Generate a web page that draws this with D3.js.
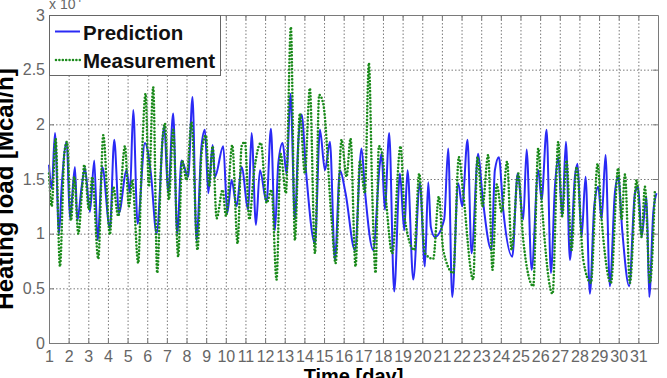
<!DOCTYPE html>
<html>
<head>
<meta charset="utf-8">
<script src="https://cdn.jsdelivr.net/npm/d3@7"></script>
<style>
    body { margin: 0; background: #fff; }
    svg { display: block; font-family: "Liberation Sans", Arial, sans-serif; }
</style>
</head>
<body>
<div id="chart"></div>
<script>
(function () {
    'use strict';

    // hour since start of day 1, heating load in 10^4 Mcal/h
    var predHour = [0, 3.3, 7.3, 12.2, 15.5, 21.6, 25.6, 31.7, 34.6, 39.9, 43.9, 50.0, 55.3, 59.4, 65.1, 74.4, 79.7, 85.4, 94.8, 98.9,
        102.9, 108.2, 117.2, 124.5, 131.4, 140.8, 145.6, 151.7, 156.6, 161.9, 170.0, 175.3, 180.2, 186.3, 190.5, 194.6, 199.9, 202.7,
        212.9, 217.8, 223.1, 229.2, 235.3, 243.4, 247.5, 252.8, 257.7, 265.8, 271.1, 276.0, 280.1, 285.4, 290.2, 295.1, 300.4, 304.5,
        308.6, 313.9, 324.9, 331.0, 337.1, 343.2, 349.3, 355.4, 362.3, 373.7, 381.8, 385.9, 396.1, 404.2, 406.3, 410.3, 415.6, 421.7,
        428.7, 434.0, 438.0, 445.0, 453.1, 459.2, 463.3, 466.5, 471.4, 482.8, 487.7, 492.6, 499.9, 504.8, 511.3, 516.2, 524.3, 529.6,
        540.6, 544.7, 549.6, 554.9, 566.0, 572.5, 579.4, 583.5, 589.6, 597.7, 601.8, 607.9, 613.2, 618.1, 622.1, 627.0, 631.5, 636.4,
        642.5, 645.7, 650.6, 655.5, 660.8, 666.1, 671.0, 675.1, 679.9, 685.2, 691.3, 695.4, 700.3, 708.8, 715.8, 719.8, 723.9, 730.0,
        733.3, 738.2, 742.2];
    var predLoad = [1.63, 1.41, 1.92, 1.00, 1.43, 1.84, 1.14, 1.61, 1.12, 1.43, 1.60, 1.20, 1.67, 0.94, 1.61, 1.05, 1.86, 1.19, 1.58, 1.37,
        2.13, 1.09, 1.83, 1.55, 1.00, 1.98, 1.37, 2.10, 1.00, 1.67, 1.52, 2.25, 0.94, 1.80, 1.95, 1.37, 1.81, 1.52,
        1.80, 1.19, 1.49, 1.25, 1.61, 1.22, 1.92, 1.08, 1.58, 1.29, 1.96, 1.03, 1.64, 1.83, 1.55, 2.28, 1.13, 1.83,
        2.09, 1.58, 0.91, 1.95, 1.58, 1.84, 0.76, 1.58, 1.37, 0.85, 1.78, 1.40, 0.85, 1.64, 1.73, 1.22, 1.92, 0.47,
        1.55, 1.03, 1.58, 0.58, 1.46, 0.70, 1.47, 1.06, 0.97, 1.13, 1.78, 0.42, 1.46, 1.25, 1.86, 0.82, 1.73, 1.34,
        0.85, 1.58, 1.70, 1.22, 0.79, 1.55, 1.13, 1.77, 0.67, 1.58, 1.31, 1.95, 0.64, 1.43, 1.70, 1.16, 1.84, 0.76,
        1.52, 1.64, 0.97, 1.52, 0.45, 1.25, 1.43, 1.13, 1.72, 0.52, 1.37, 1.52, 1.03, 0.52, 1.37, 1.43, 0.97, 1.34,
        0.42, 1.19, 1.37];

    var measHour = [0, 3.3, 8.1, 13.4, 18.7, 22.0, 26.9, 30.9, 35.8, 40.7, 43.1, 48.8, 52.9, 60.2, 66.3, 74.4, 78.5, 84.6, 92.8, 97.6,
        101.7, 109.0, 113.1, 118.0, 122.0, 127.3, 132.2, 137.5, 141.6, 146.4, 151.7, 157.8, 162.7, 168.0, 174.1, 181.4, 186.3, 191.7,
        195.8, 199.9, 204.8, 212.1, 216.2, 223.9, 230.4, 235.3, 239.4, 244.7, 250.3, 258.9, 265.8, 271.9, 278.0, 282.9, 289.4, 295.5,
        300.4, 306.5, 312.6, 318.7, 324.9, 330.1, 335.0, 345.2, 350.1, 357.4, 363.5, 368.4, 374.5, 379.8, 385.9, 390.8, 394.9, 398.9,
        403.0, 407.1, 412.4, 419.3, 429.5, 434.8, 446.2, 452.3, 459.2, 469.4, 476.3, 481.6, 493.8, 500.7, 506.0, 518.2, 523.5, 529.6,
        536.5, 541.8, 547.0, 553.0, 559.7, 565.1, 573.3, 579.4, 591.6, 597.7, 602.6, 615.2, 622.1, 627.0, 632.3, 638.4, 644.5, 652.7,
        662.0, 670.2, 675.1, 686.5, 695.4, 699.5, 703.6, 709.7, 717.8, 723.9, 728.0, 734.1, 740.2];
    var measLoad = [1.55, 1.25, 1.87, 0.70, 1.73, 1.84, 1.12, 1.52, 1.00, 1.43, 1.63, 1.22, 1.52, 0.77, 1.90, 0.99, 1.43, 1.16, 1.80, 1.25,
        1.49, 0.73, 1.61, 2.28, 1.43, 2.34, 0.64, 1.73, 2.01, 1.31, 1.95, 0.79, 1.67, 1.49, 2.02, 0.85, 1.73, 1.90,
        1.43, 1.80, 1.14, 1.40, 1.16, 1.81, 0.91, 1.80, 1.84, 1.13, 1.55, 1.83, 1.28, 1.40, 0.58, 1.73, 1.37, 2.89,
        0.94, 2.10, 1.55, 2.33, 0.82, 2.27, 2.19, 1.13, 0.73, 1.86, 1.52, 1.87, 0.70, 1.67, 1.37, 2.56, 1.37, 0.64,
        1.80, 1.73, 1.25, 0.82, 1.80, 1.13, 0.85, 1.55, 0.82, 0.77, 1.34, 0.85, 0.64, 1.70, 1.37, 0.58, 1.70, 1.25,
        1.72, 0.67, 1.45, 1.20, 1.66, 0.85, 1.55, 0.94, 0.52, 1.78, 1.22, 0.45, 1.84, 1.16, 1.67, 0.85, 1.61, 0.76,
        0.55, 1.64, 1.13, 0.55, 1.60, 1.13, 1.54, 0.55, 1.49, 0.97, 1.43, 0.55, 1.40];

    var dayTicks = d3.range(1, 32);
    var loadTicks = [0, 0.5, 1, 1.5, 2, 2.5, 3];
    var seriesNames = ["Prediction", "Measurement"];

    var width = 667, height = 378;
    var left = 49, right = 658, top = 15, bottom = 343;

    var svg = d3.select("#chart")
        .append("svg")
        .attr("width", width)
        .attr("height", height);

    var x = d3.scaleLinear().domain([1, 32]).range([left, right]);
    var y = d3.scaleLinear().domain([0, 3]).range([bottom, top]);

    // dotted grid
    svg.append("g")
        .attr("transform", "translate(0," + bottom + ")")
        .call(d3.axisBottom(x).tickValues(dayTicks).tickSize(-(bottom - top)).tickFormat(""))
        .call(function (g) {
            g.select(".domain").remove();
            g.selectAll("line").attr("stroke", "#9a9a9a").attr("stroke-dasharray", "1.5,2");
        });
    svg.append("g")
        .attr("transform", "translate(" + left + ",0)")
        .call(d3.axisLeft(y).tickValues(loadTicks).tickSize(-(right - left)).tickFormat(""))
        .call(function (g) {
            g.select(".domain").remove();
            g.selectAll("line").attr("stroke", "#9a9a9a").attr("stroke-dasharray", "1.5,2");
        });

    // series
    var line = d3.line()
        .x(function (d) { return x(1 + d.h / 24); })
        .y(function (d) { return y(d.v); })
        .curve(d3.curveMonotoneX);

    var pred = predHour.map(function (h, i) { return {h: h, v: predLoad[i]}; });
    var meas = measHour.map(function (h, i) { return {h: h, v: measLoad[i]}; });

    svg.append("path")
        .datum(pred)
        .attr("fill", "none")
        .attr("stroke", "#2a2af5")
        .attr("stroke-width", 2)
        .attr("d", line);

    svg.append("path")
        .datum(meas)
        .attr("fill", "none")
        .attr("stroke", "#1a8a1a")
        .attr("stroke-width", 2.6)
        .attr("stroke-linecap", "round")
        .attr("stroke-dasharray", "0,3.4")
        .attr("d", line);

    // axes with inward ticks, box on
    var tickColor = "#7a7a7a";
    var xAxis = svg.append("g")
        .attr("transform", "translate(0," + bottom + ")")
        .call(d3.axisBottom(x).tickValues(dayTicks).tickSizeInner(-5).tickSizeOuter(0).tickPadding(8));
    var yAxis = svg.append("g")
        .attr("transform", "translate(" + left + ",0)")
        .call(d3.axisLeft(y).tickValues(loadTicks).tickSizeInner(-5).tickSizeOuter(0).tickPadding(4)
            .tickFormat(function (d) { return d; }));
    svg.append("g")
        .attr("transform", "translate(0," + top + ")")
        .call(d3.axisTop(x).tickValues(dayTicks).tickSizeInner(-5).tickSizeOuter(0).tickFormat(""));
    svg.append("g")
        .attr("transform", "translate(" + right + ",0)")
        .call(d3.axisRight(y).tickValues(loadTicks).tickSizeInner(-5).tickSizeOuter(0).tickFormat(""));

    svg.selectAll(".domain, .tick line").attr("stroke", tickColor);
    xAxis.selectAll("text").attr("font-size", 16).attr("fill", "#666").attr("font-family", "Liberation Sans");
    yAxis.selectAll("text").attr("font-size", 16).attr("fill", "#666").attr("font-family", "Liberation Sans");

    // exponent
    var ex = svg.append("text")
        .attr("x", left)
        .attr("y", 9)
        .attr("font-size", 14)
        .attr("fill", "#666")
        .text("x 10");
    ex.append("tspan").attr("dy", -7).attr("font-size", 11).text("4");

    // axis labels
    svg.append("text")
        .attr("transform", "translate(13," + ((top + bottom) / 2 + 10) + ") rotate(-90)")
        .attr("text-anchor", "middle")
        .attr("font-weight", "bold")
        .attr("font-size", 24)
        .attr("fill", "#000")
        .text("Heating load [Mcal/h]");

    svg.append("text")
        .attr("x", (left + right) / 2)
        .attr("y", 383)
        .attr("text-anchor", "middle")
        .attr("font-weight", "bold")
        .attr("font-size", 20)
        .attr("fill", "#000")
        .text("Time [day]");

    // legend
    var legend = svg.append("g");
    legend.append("rect")
        .attr("x", left + 0.5)
        .attr("y", top + 0.5)
        .attr("width", 171)
        .attr("height", 60)
        .attr("fill", "#fff")
        .attr("stroke", "#666");

    var legendY = [31.5, 60];
    legend.append("line")
        .attr("x1", 55).attr("x2", 80).attr("y1", legendY[0]).attr("y2", legendY[0])
        .attr("stroke", "#2a2af5").attr("stroke-width", 2);
    legend.append("line")
        .attr("x1", 56).attr("x2", 80).attr("y1", legendY[1]).attr("y2", legendY[1])
        .attr("stroke", "#1a8a1a").attr("stroke-width", 2.6)
        .attr("stroke-linecap", "round").attr("stroke-dasharray", "0,3.4");

    legend.selectAll("text.lbl")
        .data(seriesNames)
        .enter()
        .append("text")
        .attr("class", "lbl")
        .attr("x", 83)
        .attr("y", function (d, i) { return legendY[i] + 8; })
        .attr("font-weight", "bold")
        .attr("font-size", 20.5)
        .attr("fill", "#111")
        .text(function (d) { return d; });
}());
</script>
</body>
</html>
